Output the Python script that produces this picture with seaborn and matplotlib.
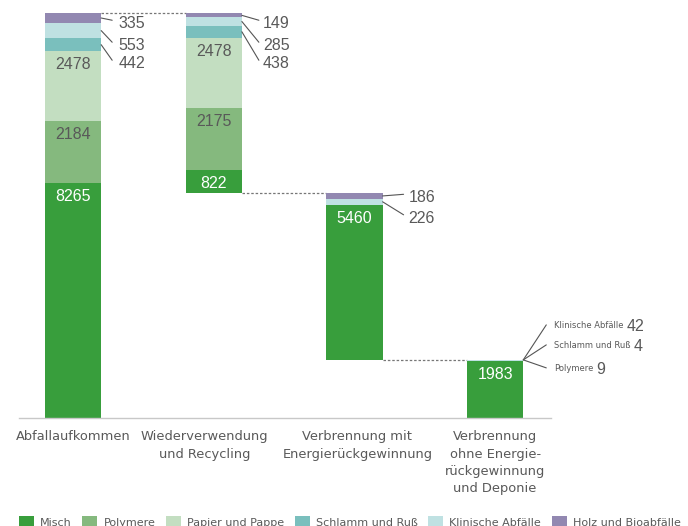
import matplotlib.pyplot as plt
import numpy as np
import pandas as pd
import seaborn as sns
from matplotlib.patches import Patch
from matplotlib.transforms import ScaledTranslation, offset_copy

# Waste flows per stage (t)
stages = [
    "Abfallaufkommen",
    "Wiederverwendung\nund Recycling",
    "Verbrennung mit\nEnergierückgewinnung",
    "Verbrennung\nohne Energie-\nrückgewinnung\nund Deponie",
]
materials = [
    "Misch",
    "Polymere",
    "Papier und Pappe",
    "Schlamm und Ruß",
    "Klinische Abfälle",
    "Holz und Bioabfälle",
]
misch = [8265, 822, 5460, 1983]
polymere = [2184, 2175, 0, 9]
papier = [2478, 2478, 0, 0]
schlamm = [442, 438, 0, 4]
klinisch = [553, 285, 226, 42]
holz = [335, 149, 186, 0]

colors = ["#389e3c", "#85b97e", "#c3dec1", "#7abfbd", "#bfe1e2", "#9288b1"]
GREY = "#595959"
NUM_FONT = ["Liberation Sans", "DejaVu Sans"]
NUM_SIZE = 11.5
BAR_W = 0.4

values = np.array([misch, polymere, papier, schlamm, klinisch, holz])
totals = values.sum(axis=0)
# waterfall: stage 0 stands on the floor, the following stages hang
# below each other so that the last one lands on the floor again
base = np.array([0] + [totals[i + 1:].sum() for i in range(1, len(stages))])
bottoms = base + np.vstack([np.zeros(len(stages)), values.cumsum(axis=0)[:-1]])
tops = base + totals

df = pd.DataFrame({
    "stage": np.tile(stages, len(materials)),
    "material": np.repeat(materials, len(stages)),
    "value": values.ravel(),
    "bottom": bottoms.ravel(),
})

sns.set_style("white")
plt.rcParams["font.family"] = ["DejaVu Sans"]

fig = plt.figure(figsize=(6.88, 5.26), dpi=100)
ax = fig.add_axes([19 / 688, 108.3 / 526, 532 / 688, 417.7 / 526])

for m, c in zip(materials, colors):
    d = df[df["material"] == m]
    sns.barplot(
        data=d, x="stage", y="value", order=stages,
        bottom=d["bottom"].to_numpy(), color=c, saturation=1,
        width=BAR_W, errorbar=None, linewidth=0, ax=ax,
    )

ax.set_xlim(-0.384, 3.397)
ax.set_ylim(0, 14724)
ax.set_xlabel("")
ax.set_ylabel("")
ax.set_yticks([])
ax.set_xticks(range(len(stages)))
ax.set_xticklabels(stages, fontsize=9.4, color=GREY, linespacing=1.42)
ax.tick_params(axis="x", length=0, pad=9.2)
# nudge the stage names a little, like in the original layout
tick_dx = [0, -9, 3, 0]
for lbl, dx in zip(ax.get_xticklabels(), tick_dx):
    lbl.set_transform(lbl.get_transform()
                      + ScaledTranslation(dx / 100, 0, fig.dpi_scale_trans))
for side in ["top", "left", "right"]:
    ax.spines[side].set_visible(False)
ax.spines["bottom"].set_color("#c8c8c8")
ax.spines["bottom"].set_linewidth(1)

# dotted connectors between the stages
for i in range(len(stages) - 1):
    ax.plot(
        [i + BAR_W / 2, i + 1 - BAR_W / 2], [tops[i + 1], tops[i + 1]],
        ls=(0, (2, 1.5)), lw=0.9, color="#777777", zorder=0,
    )

# labels inside the big segments
for k in range(3):
    for i in range(len(stages)):
        v = values[k, i]
        if v < 500:
            continue
        ax.annotate(
            str(v), xy=(i, bottoms[k, i] + v), xytext=(0, -4.3),
            textcoords="offset points", ha="center", va="top",
            fontsize=NUM_SIZE, family=NUM_FONT,
            color="white" if k == 0 else GREY,
        )

# labels with leader lines for the small segments
label_dx = [17, 21, 26, 31]  # px right of the bar edge
line_gap = [6, 4, 5, 8]      # px between line end and text
line_up = [2, 2, 2, 0]       # line end sits slightly above the text middle
half_cap = [5.7, 5.7, 5.7, 3]
label_dy = [[9, 31, 49], [9, 31, 49], [3, 23.5], [-35, -15, 8]]  # px below top
for i in range(len(stages)):
    outside = [
        k for k in range(len(materials))[::-1]
        if values[k, i] > 0 and not (k < 3 and values[k, i] >= 500)
    ]
    edge = i + BAR_W / 2
    for n, k in enumerate(outside):
        v = values[k, i]
        dy = label_dy[i][n]
        start_y = bottoms[k, i] + v / 2 if i < 3 else tops[i]
        line_end = offset_copy(ax.transData, fig=fig,
                               x=label_dx[i] - line_gap[i], y=-dy + line_up[i],
                               units="dots")
        ax.annotate(
            "", xy=(edge, start_y), xytext=(edge, tops[i]),
            textcoords=line_end,
            arrowprops=dict(arrowstyle="-", color="#555555", lw=0.8,
                            shrinkA=0, shrinkB=0),
        )
        text_pos = offset_copy(ax.transData, fig=fig, x=label_dx[i],
                               y=-dy - half_cap[i], units="dots")
        if i < 3:
            ax.text(edge, tops[i], str(v), transform=text_pos,
                    ha="left", va="baseline", fontsize=NUM_SIZE,
                    family=NUM_FONT, color=GREY)
        else:
            name = ax.text(edge, tops[i], materials[k], transform=text_pos,
                           ha="left", va="baseline", fontsize=6, color=GREY)
            ax.annotate(
                str(v), xy=(1, 0), xycoords=name, xytext=(2, -1),
                textcoords="offset points", ha="left", va="baseline",
                fontsize=NUM_SIZE, family=NUM_FONT, color=GREY,
            )

handles = [Patch(facecolor=c, edgecolor="none") for c in colors]
fig.legend(
    handles, materials, loc="upper left",
    bbox_to_anchor=(19 / 688, (526 - 516) / 526), ncol=6, frameon=False,
    fontsize=8, labelcolor=GREY, handlelength=1.35, handleheight=1.35,
    handletextpad=0.55, columnspacing=0.95, borderpad=0, borderaxespad=0,
)

fig.savefig("out.png", dpi=100)
